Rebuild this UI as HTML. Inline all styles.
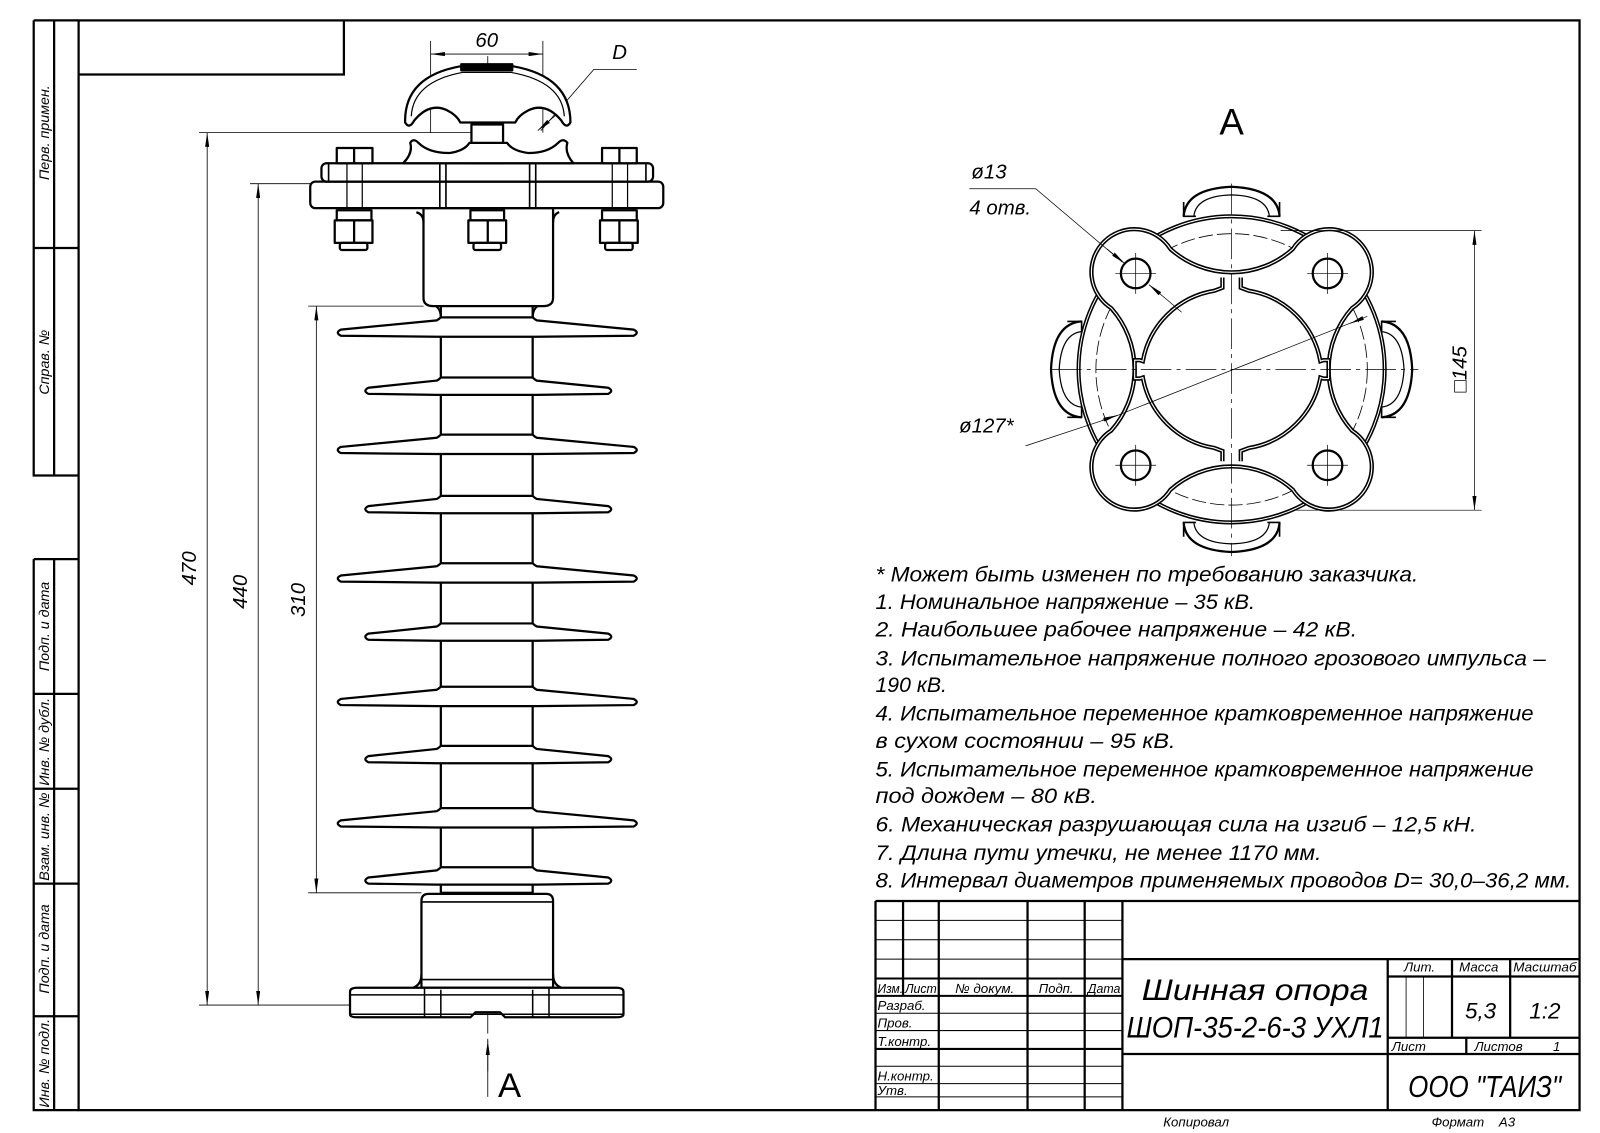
<!DOCTYPE html>
<html><head><meta charset="utf-8"><style>
html,body{margin:0;padding:0;background:#fff;}
svg{display:block;}
text{font-family:"Liberation Sans","DejaVu Sans",sans-serif;font-style:italic;fill:#000;}
</style></head><body>
<svg width="1600" height="1133" viewBox="0 0 1568 1110.4" xmlns="http://www.w3.org/2000/svg">
<defs>
<marker id="ar" viewBox="0 0 14 4" refX="14" refY="2" markerWidth="14" markerHeight="4" orient="auto-start-reverse" markerUnits="userSpaceOnUse"><path d="M0,0L14,2L0,4z"/></marker>
<path id="big" d="M432,-14 Q430,-12 428,-11 L334,-2 Q328,1 334,4 L428,5 L526,5 L621,4 Q627,1 621,-2 L526,-11 Q524,-12 522,-14 Z" fill="#fff" stroke="#000" stroke-width="2.2"/>
<path id="small" d="M432,-12 Q430,-10 428,-9 L361,-2 Q355,1 361,4 L428,5 L526,5 L596,4 Q602,1 596,-2 L526,-9 Q524,-10 522,-12 Z" fill="#fff" stroke="#000" stroke-width="2.2"/>
</defs>
<rect width="1568" height="1111" fill="#fff"/>
<g fill="none" stroke="#000">
<!-- frame -->
<rect x="77" y="20" width="1471" height="1068" stroke-width="2.2"/>
<path d="M77,73 H337 V20" stroke-width="2.2"/>
<path d="M33,20 V466 H77 M53,20 V466 M33,243 H77 M33,20 H77" stroke-width="2.2"/>
<path d="M33,548 V1088 H77 M33,548 H77 M53,548 V1088 M33,680 H77 M33,773 H77 M33,866 H77 M33,996 H77" stroke-width="2.2"/>
</g>
<g font-size="14">
<text transform="translate(48,130) rotate(-90)" text-anchor="middle">Перв. примен.</text>
<text transform="translate(48,355) rotate(-90)" text-anchor="middle">Справ. №</text>
<text transform="translate(48,614) rotate(-90)" text-anchor="middle">Подп. и дата</text>
<text transform="translate(48,727) rotate(-90)" text-anchor="middle">Инв. № дубл.</text>
<text transform="translate(48,820) rotate(-90)" text-anchor="middle">Взам. инв. №</text>
<text transform="translate(48,930) rotate(-90)" text-anchor="middle">Подп. и дата</text>
<text transform="translate(48,1042) rotate(-90)" text-anchor="middle">Инв. № подл.</text>
</g>

<!-- centerline -->
<path d="M478,55 V1050" stroke="#000" stroke-width="0.8" stroke-dasharray="40,5,4,5" fill="none"/>

<!-- dimension lines -->
<g stroke="#000" stroke-width="0.8" fill="none">
<path d="M195,130 H478 M245,180 H304 M302,300 H415 M302,875 H413 M195,985 H343"/>
<path d="M203,130 V985" marker-start="url(#ar)" marker-end="url(#ar)"/>
<path d="M253,180 V985" marker-start="url(#ar)" marker-end="url(#ar)"/>
<path d="M310,300 V875" marker-start="url(#ar)" marker-end="url(#ar)"/>
<path d="M422,40 V130 M532,40 V130"/>
<path d="M422,53 H532" marker-start="url(#ar)" marker-end="url(#ar)"/>
<path d="M624,68 H582 L530,128" />
<path d="M548,110 L527,128" marker-end="url(#ar)"/>
<path d="M478,1075 V1020" marker-end="url(#ar)"/>
</g>
<g font-size="20">
<text transform="translate(192,557) rotate(-90)" text-anchor="middle">470</text>
<text transform="translate(242,580) rotate(-90)" text-anchor="middle">440</text>
<text transform="translate(299,588) rotate(-90)" text-anchor="middle">310</text>
<text x="477" y="46" text-anchor="middle">60</text>
<text x="600" y="58">D</text>
</g>
<text x="488" y="1075" font-size="34" font-style="normal" style="font-style:normal">A</text>

<!-- top fitting -->
<g stroke="#000" stroke-width="2.2" fill="#fff" stroke-linejoin="round">
<path d="M415,204 V292 Q415,300 425,300 H532 Q542,300 542,292 V204 Z"/>
<path d="M408,208 Q415,210 415,218 M548,208 Q542,210 542,218" fill="none"/>
<rect x="304" y="178" width="346" height="26" rx="5"/>
<rect x="315" y="160" width="325" height="18" rx="5"/>
<path d="M322,160 V178 M633,160 V178 M437,160 V204 M519,160 V204 M431,160 V204 M525,160 V204" fill="none" stroke-width="1.6"/>
<path d="M340,178 V204 M355,178 V204 M600,178 V204 M615,178 V204 M340,160 V178 M600,160 V178 M355,160 V178 M615,160 V178" fill="none" stroke-width="1.2"/>
<!-- bolt heads -->
<rect x="330" y="145" width="35" height="15"/><path d="M347,145 V160" fill="none"/>
<rect x="461" y="145" width="32" height="15"/><path d="M477,145 V160" fill="none"/>
<rect x="590" y="145" width="34" height="15"/><path d="M607,145 V160" fill="none"/>
<!-- nuts below -->
<rect x="330" y="206" width="34" height="10"/><rect x="328" y="216" width="37" height="22"/><rect x="333" y="238" width="27" height="7" rx="2"/><path d="M347,216 V238" fill="none"/>
<rect x="461" y="206" width="33" height="10"/><rect x="459" y="216" width="37" height="22"/><rect x="464" y="238" width="27" height="7" rx="2"/><path d="M478,216 V238" fill="none"/>
<rect x="590" y="206" width="34" height="10"/><rect x="588" y="216" width="37" height="22"/><rect x="593" y="238" width="27" height="7" rx="2"/><path d="M607,216 V238" fill="none"/>
<!-- lower saddle -->
<path d="M395,160 Q405,150 402,140 Q405,135 410,140 Q420,150 440,150 Q455,148 460,140 H497 Q502,148 518,150 Q537,150 547,140 Q552,135 556,140 Q553,150 562,160 Z"/>
<rect x="462" y="122" width="31" height="18"/>
<!-- dome -->
<path d="M397,120 Q396,75 451,65 H503 Q559,75 559,120 Q555,127 550,118 Q535,100 518,108 Q508,113 505,120 H451 Q448,113 438,108 Q421,100 406,118 Q401,127 397,120 Z"/>
<path d="M403,114 Q405,80 453,71 H501 Q551,80 553,114" fill="none" stroke-width="1.2"/>
<rect x="452" y="63" width="50" height="6" fill="#000"/>
</g>

<!-- core & sheds -->
<rect x="432" y="300" width="90" height="575" fill="#fff" stroke="#000" stroke-width="2.2"/>
<use href="#big" y="325"/><use href="#small" y="382"/>
<use href="#big" y="440"/><use href="#small" y="498"/>
<use href="#big" y="566"/><use href="#small" y="623"/>
<use href="#big" y="687"/><use href="#small" y="743"/>
<use href="#big" y="806"/><use href="#small" y="862"/>
<path d="M427,300 Q432,303 432,312 M527,300 Q522,303 522,312" stroke="#000" stroke-width="2" fill="none"/>

<!-- bottom fitting -->
<g stroke="#000" stroke-width="2.2" fill="#fff" stroke-linejoin="round">
<path d="M413,968 V883 Q413,876 420,876 H535 Q542,876 542,883 V968 Z"/>
<path d="M413,884 H542 M413,960 H542" fill="none" stroke-width="1.6"/>
<path d="M343,972 Q343,968 350,968 H604 Q611,968 611,972 V994 Q611,997 604,997 H495 L490,992 H466 L461,997 H350 Q343,997 343,994 Z"/>
<path d="M343,975 H611 M343,994 H611 M416,968 V997 M432,970 V997 M522,970 V997 M538,968 V997" fill="none" stroke-width="1.5"/>
<path d="M405,968 Q413,965 413,955 M550,968 Q542,965 542,955" fill="none"/>
</g>

<!-- View A -->
<text x="1207" y="132" font-size="36" text-anchor="middle" style="font-style:normal">A</text>
<g stroke="#000" fill="none">
<!-- lugs -->
<g stroke-width="2.2" fill="#fff">
<path d="M1160,212 Q1162,185 1207,183 Q1252,185 1254,212"/>
<path d="M1170,212 Q1172,192 1207,191 Q1242,192 1244,212" stroke-width="1.2"/>
<path d="M1160,512 Q1162,539 1207,541 Q1252,539 1254,512"/>
<path d="M1170,512 Q1172,532 1207,533 Q1242,532 1244,512" stroke-width="1.2"/>
<path d="M1060,315 Q1032,317 1030,362 Q1032,407 1060,409"/>
<path d="M1060,325 Q1040,327 1038,362 Q1040,397 1060,399" stroke-width="1.2"/>
<path d="M1354,315 Q1382,317 1384,362 Q1382,407 1354,409"/>
<path d="M1354,325 Q1374,327 1376,362 Q1374,397 1354,399" stroke-width="1.2"/>
<path d="M1160,198 V212 H1172 M1254,198 V212 H1242 M1160,526 V512 H1172 M1254,526 V512 H1242 M1046,315 H1060 V327 M1046,409 H1060 V397 M1368,315 H1354 V327 M1368,409 H1354 V397" stroke-width="1.6" fill="none"/>
</g>
<circle cx="1207" cy="362" r="150" stroke-width="4" fill="#fff"/>
<circle cx="1207" cy="362" r="150" stroke-width="1" stroke="#fff"/>
<circle cx="1207" cy="362" r="133" stroke-width="0.8" stroke-dasharray="14,4"/>
<path d="M1147,244 A90,90 0 0 0 1267,244 A42,42 0 1 1 1325,302 A90,90 0 0 0 1325,422 A42,42 0 1 1 1267,480 A90,90 0 0 0 1147,480 A42,42 0 1 1 1089,422 A90,90 0 0 0 1089,302 A42,42 0 1 1 1147,244 Z" stroke-width="4.2" fill="#fff"/>
<path d="M1147,244 A90,90 0 0 0 1267,244 A42,42 0 1 1 1325,302 A90,90 0 0 0 1325,422 A42,42 0 1 1 1267,480 A90,90 0 0 0 1147,480 A42,42 0 1 1 1089,422 A90,90 0 0 0 1089,302 A42,42 0 1 1 1147,244 Z" stroke-width="1.1" stroke="#fff"/>
<path d="M1198,272 V282 L1190,285 A85,85 0 0 0 1120,354 L1117,353 H1112 V371 H1117 L1120,370 A85,85 0 0 0 1190,439 L1198,442 V452 M1216,452 V442 L1224,439 A85,85 0 0 0 1294,370 L1297,371 H1302 V353 H1297 L1294,354 A85,85 0 0 0 1224,285 L1216,282 V272" stroke-width="4.2"/>
<path d="M1198,272 V282 L1190,285 A85,85 0 0 0 1120,354 L1117,353 H1112 V371 H1117 L1120,370 A85,85 0 0 0 1190,439 L1198,442 V452 M1216,452 V442 L1224,439 A85,85 0 0 0 1294,370 L1297,371 H1302 V353 H1297 L1294,354 A85,85 0 0 0 1224,285 L1216,282 V272" stroke-width="1.1" stroke="#fff"/>
<g stroke-width="2.2">
<circle cx="1113" cy="268" r="14.5"/><circle cx="1301" cy="268" r="14.5"/>
<circle cx="1113" cy="456" r="14.5"/><circle cx="1301" cy="456" r="14.5"/>
</g>
<g stroke-width="0.7">
<path d="M1093,268 H1133 M1113,248 V288 M1281,268 H1321 M1301,248 V288 M1093,456 H1133 M1113,436 V476 M1281,456 H1321 M1301,436 V476"/>
<path d="M1207,180 V545 M1030,362 H1390" stroke-dasharray="30,5,4,5"/>
<path d="M1255,226 H1452 M1270,500 H1452"/>
<path d="M1445,226 V500" marker-start="url(#ar)" marker-end="url(#ar)"/>
<path d="M950,185 H1015 L1100,257" />
<path d="M1085,244 L1102,258" marker-end="url(#ar)"/>
<path d="M1144,294 L1126,279" marker-end="url(#ar)"/>
<path d="M1144,294 L1158,306"/>
<path d="M1005,437 L1093,408 L1325,316"/>
<path d="M1080,412 L1095,407" marker-end="url(#ar)"/>
<path d="M1340,310 L1323,317" marker-end="url(#ar)"/>
</g>
</g>
<g font-size="20">
<text x="952" y="175">ø13</text>
<text x="950" y="210">4 отв.</text>
<text x="940" y="424">ø127*</text>
<text transform="translate(1437,362) rotate(-90)" text-anchor="middle">□145</text>
</g>

<!-- notes -->
<g font-size="21" lengthAdjust="spacingAndGlyphs">
<text x="858" y="570" textLength="532" lengthAdjust="spacingAndGlyphs">* Может быть изменен по требованию заказчика.</text>
<text x="858" y="597" textLength="372" lengthAdjust="spacingAndGlyphs">1. Номинальное напряжение – 35 кВ.</text>
<text x="858" y="624" textLength="472" lengthAdjust="spacingAndGlyphs">2. Наибольшее рабочее напряжение – 42 кВ.</text>
<text x="858" y="652" textLength="657" lengthAdjust="spacingAndGlyphs">3. Испытательное напряжение полного грозового импульса –</text>
<text x="858" y="678" textLength="70" lengthAdjust="spacingAndGlyphs">190 кВ.</text>
<text x="858" y="706" textLength="645" lengthAdjust="spacingAndGlyphs">4. Испытательное переменное кратковременное напряжение</text>
<text x="858" y="733" textLength="294" lengthAdjust="spacingAndGlyphs">в сухом состоянии – 95 кВ.</text>
<text x="858" y="761" textLength="645" lengthAdjust="spacingAndGlyphs">5. Испытательное переменное кратковременное напряжение</text>
<text x="858" y="787" textLength="217" lengthAdjust="spacingAndGlyphs">под дождем – 80 кВ.</text>
<text x="858" y="815" textLength="589" lengthAdjust="spacingAndGlyphs">6. Механическая разрушающая сила на изгиб – 12,5 кН.</text>
<text x="858" y="843" textLength="437" lengthAdjust="spacingAndGlyphs">7. Длина пути утечки, не менее 1170 мм.</text>
<text x="858" y="870" textLength="682" lengthAdjust="spacingAndGlyphs">8. Интервал диаметров применяемых проводов D= 30,0–36,2 мм.</text>
</g>

<!-- title block -->
<g stroke="#000" fill="none">
<path d="M858,883 H1548 M858,883 V1088" stroke-width="2.2"/>
<path d="M885,883 V976 M920,883 V1088 M1007,883 V1088 M1063,883 V1088 M1100,883 V1088" stroke-width="2.2"/>
<path d="M858,902 H1100 M858,921 H1100 M858,940 H1100 M858,993 H1100 M858,1010 H1100 M858,1045 H1100 M858,1062 H1100 M858,1075 H1100" stroke-width="1"/>
<path d="M858,959 H1100 M858,976 H1100 M858,1028 H1100" stroke-width="2"/>
<path d="M1100,940 H1548 M1100,1033 H1548 M1360,940 V1088 M1423,940 V1017 M1480,940 V1017 M1360,957 H1548 M1360,1017 H1548 M1437,1017 V1033" stroke-width="2.2"/>
<path d="M1378,957 V1017 M1395,957 V1017" stroke-width="0.8"/>
</g>
<g font-size="13">
<text x="860" y="973" textLength="25" lengthAdjust="spacingAndGlyphs">Изм.</text>
<text x="887" y="973" textLength="31" lengthAdjust="spacingAndGlyphs">Лист</text>
<text x="936" y="973" textLength="58" lengthAdjust="spacingAndGlyphs">№ докум.</text>
<text x="1018" y="973" textLength="34" lengthAdjust="spacingAndGlyphs">Подп.</text>
<text x="1066" y="973" textLength="32" lengthAdjust="spacingAndGlyphs">Дата</text>
<text x="860" y="990">Разраб.</text>
<text x="860" y="1007">Пров.</text>
<text x="860" y="1025">Т.контр.</text>
<text x="860" y="1059">Н.контр.</text>
<text x="860" y="1073">Утв.</text>
<text x="1376" y="952">Лит.</text>
<text x="1430" y="952">Масса</text>
<text x="1483" y="952" textLength="62" lengthAdjust="spacingAndGlyphs">Масштаб</text>
<text x="1364" y="1030">Лист</text>
<text x="1445" y="1030">Листов</text>
<text x="1522" y="1030">1</text>
<text x="1140" y="1104">Копировал</text>
<text x="1403" y="1104">Формат&#160;&#160;&#160;&#160;А3</text>
</g>
<text x="1230" y="980" font-size="29" text-anchor="middle" textLength="222" lengthAdjust="spacingAndGlyphs">Шинная опора</text>
<text x="1230" y="1017" font-size="29" text-anchor="middle" textLength="252" lengthAdjust="spacingAndGlyphs">ШОП-35-2-6-3 УХЛ1</text>
<text x="1451" y="998" font-size="22" text-anchor="middle">5,3</text>
<text x="1514" y="998" font-size="22" text-anchor="middle">1:2</text>
<text x="1455" y="1075" font-size="30" text-anchor="middle" textLength="150" lengthAdjust="spacingAndGlyphs">ООО "ТАИЗ"</text>
</svg>
</body></html>
